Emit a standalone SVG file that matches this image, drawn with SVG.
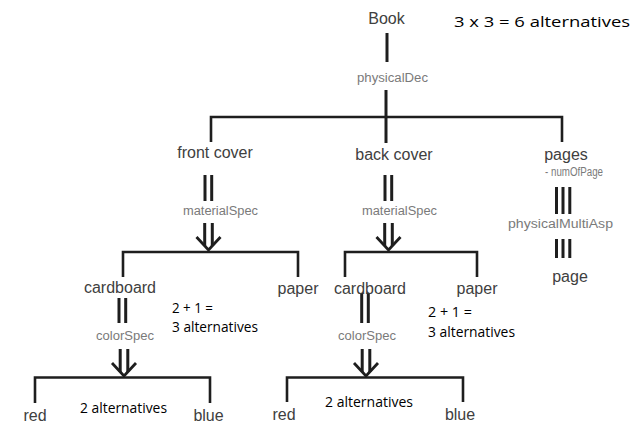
<svg xmlns="http://www.w3.org/2000/svg" xmlns:xlink="http://www.w3.org/1999/xlink" width="638" height="425" viewBox="0 0 638 425">
  <style>
    .node { font-family: "Liberation Sans", Arial, sans-serif; font-size: 16px; fill: #404040; text-anchor: middle; }
    .rel { font-family: "Liberation Sans", Arial, sans-serif; font-size: 12px; fill: #7a7a7a; }
    .note { font-family: "Open Sans", "Liberation Sans", sans-serif; font-size: 14px; fill: #000; }
    .wire { fill: none; stroke: #1e1e1e; stroke-width: 2.6; }
    .bar { fill: none; stroke: #1e1e1e; stroke-width: 3; }
  </style>
  <defs>
    <!-- double-shafted open arrow, tip at the origin -->
    <g id="dbl-arrow" class="wire">
      <path d="M-3.8,-27 V-4 M3.8,-27 V-4" stroke-width="3"/>
      <path d="M-12,-13 L0,0 L12,-13" stroke-width="2.8"/>
    </g>
  </defs>

  <rect width="638" height="425" fill="#fff"/>

  <!-- connectors -->
  <g id="connectors">
    <!-- Book decomposition -->
    <line class="bar" x1="387" y1="33" x2="387" y2="62"/>
    <text class="rel" x="357" y="82" textLength="71" lengthAdjust="spacingAndGlyphs">physicalDec</text>
    <line class="bar" x1="386" y1="90" x2="386" y2="143"/>
    <path class="wire" d="M211,142 V117 H562 V142"/>

    <!-- front cover material -->
    <path class="bar" d="M205,175 V201 M211.7,175 V201"/>
    <text class="rel" x="183" y="215" textLength="75" lengthAdjust="spacingAndGlyphs">materialSpec</text>
    <use xlink:href="#dbl-arrow" x="208.5" y="250"/>
    <path class="wire" d="M123,277 V252 H298 V277"/>

    <!-- back cover material -->
    <path class="bar" d="M385,175 V201 M391.7,175 V201"/>
    <text class="rel" x="362" y="215" textLength="75" lengthAdjust="spacingAndGlyphs">materialSpec</text>
    <use xlink:href="#dbl-arrow" x="388.5" y="250"/>
    <path class="wire" d="M345,277 V252 H477 V277"/>

    <!-- front cardboard colour -->
    <path class="bar" d="M119,298 V323 M125.7,298 V323"/>
    <text class="rel" x="96" y="340" textLength="58" lengthAdjust="spacingAndGlyphs">colorSpec</text>
    <use xlink:href="#dbl-arrow" x="124" y="376"/>
    <path class="wire" d="M35,403 V377.5 H210 V403"/>

    <!-- back cardboard colour -->
    <path class="bar" d="M361.7,293 V323 M368.3,293 V323"/>
    <text class="rel" x="338" y="340" textLength="58" lengthAdjust="spacingAndGlyphs">colorSpec</text>
    <use xlink:href="#dbl-arrow" x="366" y="376"/>
    <path class="wire" d="M287,402 V377.5 H463 V402"/>

    <!-- pages multi-aspect -->
    <path class="bar" d="M556.5,187 V214 M563,187 V214 M569.8,187 V214"/>
    <text class="rel" x="508" y="228" textLength="105" lengthAdjust="spacingAndGlyphs">physicalMultiAsp</text>
    <path class="bar" d="M556.5,239 V258 M563,239 V258 M569.8,239 V258"/>
  </g>

  <!-- nodes -->
  <g id="book"><text class="node" x="386.5" y="24">Book</text></g>
  <g id="front-cover"><text class="node" x="215" y="158">front cover</text></g>
  <g id="back-cover"><text class="node" x="394" y="160">back cover</text></g>
  <g id="pages">
    <text class="node" x="566" y="160">pages</text>
    <text class="rel" x="545" y="176" font-size="8" textLength="58" lengthAdjust="spacingAndGlyphs">- numOfPage</text>
  </g>
  <g id="page"><text class="node" x="570" y="282">page</text></g>
  <g id="front-cardboard"><text class="node" x="120" y="293">cardboard</text></g>
  <g id="front-paper"><text class="node" x="298" y="294">paper</text></g>
  <g id="back-cardboard"><text class="node" x="370" y="294">cardboard</text></g>
  <g id="back-paper"><text class="node" x="477" y="294">paper</text></g>
  <g id="front-red"><text class="node" x="35" y="421">red</text></g>
  <g id="front-blue"><text class="node" x="208.5" y="421">blue</text></g>
  <g id="back-red"><text class="node" x="284" y="420">red</text></g>
  <g id="back-blue"><text class="node" x="460" y="420">blue</text></g>

  <!-- alternative counts -->
  <g id="counts">
    <text class="note" x="454" y="27" font-size="17" textLength="176" lengthAdjust="spacingAndGlyphs">3 x 3 = 6 alternatives</text>
    <text class="note" x="172" y="313" textLength="41" lengthAdjust="spacingAndGlyphs">2 + 1 =</text>
    <text class="note" x="172" y="332" textLength="86" lengthAdjust="spacingAndGlyphs">3 alternatives</text>
    <text class="note" x="428" y="317" textLength="44" lengthAdjust="spacingAndGlyphs">2 + 1 =</text>
    <text class="note" x="428" y="337" textLength="87" lengthAdjust="spacingAndGlyphs">3 alternatives</text>
    <text class="note" x="80" y="413" textLength="87" lengthAdjust="spacingAndGlyphs">2 alternatives</text>
    <text class="note" x="325" y="407" textLength="88" lengthAdjust="spacingAndGlyphs">2 alternatives</text>
  </g>
</svg>
